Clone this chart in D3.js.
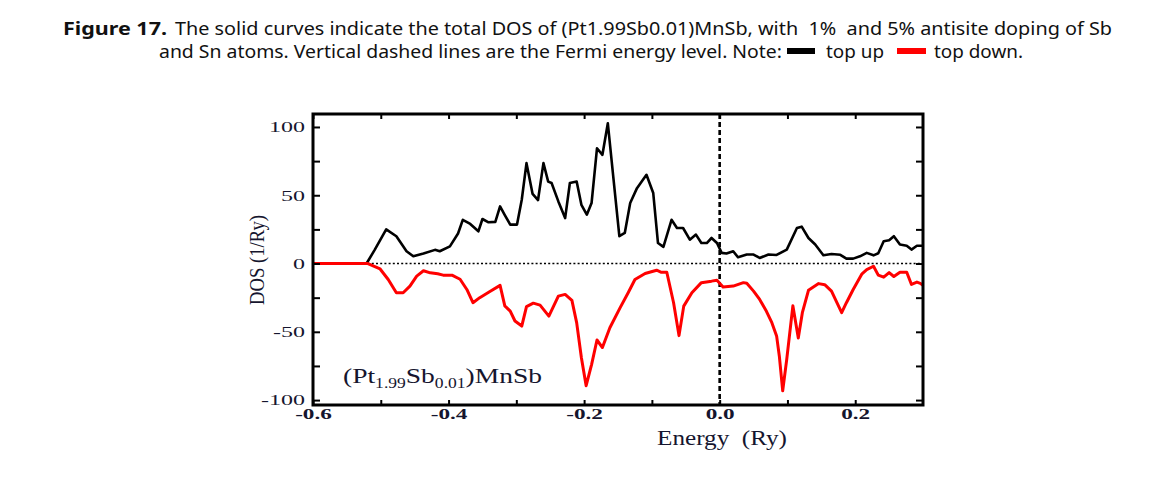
<!DOCTYPE html>
<html><head><meta charset="utf-8">
<script src="https://cdn.jsdelivr.net/npm/d3@7/dist/d3.min.js"></script>
<style>body{margin:0;background:#fff} svg{display:block} text{white-space:pre}</style>
</head><body><svg id="c" width="1154" height="488"></svg>
<script>
// ---- data ----
const energyUp = [-0.600,-0.521,-0.509,-0.492,-0.477,-0.462,-0.452,-0.437,-0.420,-0.413,-0.398,-0.386,-0.379,-0.368,-0.356,-0.350,-0.341,-0.331,-0.324,-0.317,-0.309,-0.299,-0.292,-0.285,-0.276,-0.268,-0.260,-0.253,-0.248,-0.238,-0.228,-0.221,-0.211,-0.204,-0.196,-0.189,-0.181,-0.173,-0.165,-0.157,-0.148,-0.140,-0.132,-0.122,-0.108,-0.098,-0.091,-0.083,-0.071,-0.063,-0.054,-0.044,-0.035,-0.027,-0.019,-0.012,-0.004,0.003,0.010,0.020,0.027,0.040,0.050,0.059,0.072,0.084,0.099,0.114,0.121,0.131,0.141,0.153,0.165,0.178,0.187,0.197,0.207,0.217,0.227,0.234,0.242,0.250,0.257,0.266,0.276,0.283,0.291,0.300];
const dosUp = [0,0,10,25,20,9,5.3,7.3,10,9,12.6,22,32,29,23.6,32.6,30.2,30.5,41.8,35.5,28.5,28.5,46.7,73.5,51,46.5,73.5,60,59,45.5,33.3,59,60,43,35.8,44.3,84.4,79.6,102.7,63.7,20,22.4,44.3,55.2,65,51.6,15,12.2,32,26,26,17.5,21.2,15,15,18.7,15,7.8,7.3,9,4.6,6.6,6.6,4.1,6.6,6.3,10.2,26,27,18.7,13.9,6.1,7,6.4,3.6,3.6,5.3,7.8,6,7.5,16.3,17,20,13.9,13,10.2,13,13];
const energyDown = [-0.600,-0.519,-0.501,-0.489,-0.477,-0.467,-0.457,-0.447,-0.437,-0.427,-0.416,-0.408,-0.395,-0.383,-0.373,-0.364,-0.354,-0.339,-0.324,-0.317,-0.309,-0.302,-0.292,-0.285,-0.275,-0.265,-0.252,-0.238,-0.228,-0.218,-0.211,-0.204,-0.197,-0.189,-0.181,-0.173,-0.162,-0.147,-0.135,-0.125,-0.110,-0.093,-0.086,-0.078,-0.068,-0.060,-0.053,-0.041,-0.027,-0.012,-0.004,0.005,0.020,0.035,0.040,0.050,0.059,0.069,0.077,0.084,0.088,0.093,0.099,0.108,0.116,0.122,0.131,0.146,0.155,0.165,0.173,0.180,0.187,0.197,0.210,0.217,0.227,0.234,0.242,0.250,0.257,0.266,0.276,0.283,0.291,0.296,0.300];
const dosDown = [0,0,-4,-11.7,-21.4,-21.4,-16.5,-9.2,-5.3,-6.8,-7.5,-8.5,-8.5,-11.5,-19,-28.7,-25,-20.5,-16,-31,-34.8,-42.1,-45.8,-31.5,-29,-30.5,-38.5,-23.9,-22.6,-27,-43.3,-69,-89.5,-74,-56,-61.5,-47,-32.5,-21.4,-11.7,-7.3,-4.9,-6.4,-6.4,-28.7,-52.8,-31.2,-21.4,-14,-12.9,-12.2,-17.2,-16.5,-14,-14.5,-20.2,-26.3,-35,-43.3,-53,-67.7,-93.2,-70,-31,-54.6,-36,-19.6,-14.7,-15.5,-20.2,-28.7,-36,-28.7,-19,-7.5,-4.4,-2,-8.5,-10,-6.6,-9.5,-6.4,-6.4,-15.3,-13.6,-14.5,-16];
const xLabelTicks = [-0.6,-0.4,-0.2,0.0,0.2];
const xLabelText = ["-0.6","-0.4","-0.2","0.0","0.2"];
const xAllTicks = [-0.6,-0.5,-0.4,-0.3,-0.2,-0.1,0.0,0.1,0.2];
const yLabelTicks = [-100,-50,0,50,100];
const yLabelText = ["-100","-50","0","50","100"];
const yAllTicks = [-100,-75,-50,-25,0,25,50,75,100];
const fermiEnergy = 0;
const xDomain = [-0.6, 0.3];
const yDomain = [-103.6, 109.5];

// ---- layout ----
const svg = d3.select("#c");
const L = 313, R = 923, T = 114, B = 405;
const x = d3.scaleLinear().domain(xDomain).range([L, R]);
const y = d3.scaleLinear().domain(yDomain).range([B, T]);
const serif = "'Liberation Serif','Times New Roman',serif";
const ink = "#15152e";

// ---- title ----
const sans = "'Noto Sans','Liberation Sans',Arial,sans-serif";
const t1 = svg.append("g").attr("font-family", sans).attr("font-size", 18).attr("fill", "#111");
t1.append("text").attr("x", 63).attr("y", 35).attr("font-weight", "bold")
  .attr("textLength", 104).attr("lengthAdjust", "spacingAndGlyphs").text("Figure 17.");
t1.append("text").attr("x", 175).attr("y", 35)
  .attr("textLength", 937).attr("lengthAdjust", "spacingAndGlyphs")
  .text("The solid curves indicate the total DOS of (Pt1.99Sb0.01)MnSb, with  1%  and 5% antisite doping of Sb");
t1.append("text").attr("x", 159).attr("y", 58)
  .attr("textLength", 623).attr("lengthAdjust", "spacingAndGlyphs")
  .text("and Sn atoms. Vertical dashed lines are the Fermi energy level. Note:");
t1.append("rect").attr("x", 787).attr("y", 48).attr("width", 28).attr("height", 6).attr("fill", "#000");
t1.append("text").attr("x", 826).attr("y", 58)
  .attr("textLength", 58).attr("lengthAdjust", "spacingAndGlyphs").text("top up");
t1.append("rect").attr("x", 897).attr("y", 48).attr("width", 29).attr("height", 6).attr("fill", "#ff0000");
t1.append("text").attr("x", 934).attr("y", 58)
  .attr("textLength", 89).attr("lengthAdjust", "spacingAndGlyphs").text("top down.");

// ---- reference lines ----
svg.append("line").attr("x1", L).attr("x2", R).attr("y1", y(0)).attr("y2", y(0))
  .attr("stroke", "#000").attr("stroke-width", 1.6).attr("stroke-dasharray", "2,2.2");
svg.append("line").attr("x1", x(fermiEnergy)).attr("x2", x(fermiEnergy)).attr("y1", T).attr("y2", B)
  .attr("stroke", "#000").attr("stroke-width", 2.6).attr("stroke-dasharray", "5,3");

// ---- curves ----
const line = d3.line().x(d => x(d[0])).y(d => y(d[1]));
svg.append("path").datum(d3.zip(energyUp, dosUp)).attr("d", line)
  .attr("fill", "none").attr("stroke", "#000").attr("stroke-width", 2.6).attr("stroke-linejoin", "round");
svg.append("path").datum(d3.zip(energyDown, dosDown)).attr("d", line)
  .attr("fill", "none").attr("stroke", "#ff0000").attr("stroke-width", 3).attr("stroke-linejoin", "round");

// ---- axes (inward ticks) ----
function styleAxis(g) {
  g.select(".domain").remove();
  g.selectAll(".tick line").attr("stroke", "#000").attr("stroke-width", 2);
}
svg.append("g").attr("transform", `translate(0,${B})`)
  .call(d3.axisBottom(x).tickValues(xAllTicks).tickSize(-5).tickFormat(""))
  .call(styleAxis);
svg.append("g").attr("transform", `translate(0,${T})`)
  .call(d3.axisTop(x).tickValues(xAllTicks).tickSize(-5).tickFormat(""))
  .call(styleAxis);
svg.append("g").attr("transform", `translate(${L},0)`)
  .call(d3.axisLeft(y).tickValues(yAllTicks).tickSize(-7).tickFormat(""))
  .call(styleAxis);
svg.append("g").attr("transform", `translate(${R},0)`)
  .call(d3.axisRight(y).tickValues(yAllTicks).tickSize(-7).tickFormat(""))
  .call(styleAxis);

// tick labels (horizontally stretched like the source)
const sx = 1.6;
const xl = svg.append("g").attr("transform", `translate(0,${B})`)
  .call(d3.axisBottom(x).tickValues(xLabelTicks).tickSize(0).tickPadding(4)
    .tickFormat((d, i) => xLabelText[i]));
xl.select(".domain").remove();
xl.selectAll("text").attr("font-family", serif).attr("font-size", 14.5).attr("font-weight", "bold")
  .attr("fill", ink).attr("transform", `scale(${sx},1)`);
const yl = svg.append("g").attr("transform", `translate(${L},0)`)
  .call(d3.axisLeft(y).tickValues(yLabelTicks).tickSize(0).tickPadding(8)
    .tickFormat((d, i) => yLabelText[i]));
yl.select(".domain").remove();
yl.selectAll("text").attr("font-family", serif).attr("font-size", 15)
  .attr("fill", ink).attr("x", -8 / sx).attr("transform", `scale(${sx},1)`);

// frame
svg.append("rect").attr("x", L).attr("y", T).attr("width", R - L).attr("height", B - T)
  .attr("fill", "none").attr("stroke", "#000").attr("stroke-width", 3);

// ---- axis titles & annotation ----
svg.append("text").attr("x", 657).attr("y", 445).attr("font-family", serif).attr("font-size", 22)
  .attr("fill", ink).attr("textLength", 130).attr("lengthAdjust", "spacingAndGlyphs").text("Energy  (Ry)");
svg.append("text").attr("transform", "translate(264,305) rotate(-90)")
  .attr("font-family", serif).attr("font-size", 21).attr("fill", ink)
  .attr("textLength", 90).attr("lengthAdjust", "spacingAndGlyphs").text("DOS (1/Ry)");
const ann = svg.append("text").attr("x", 343).attr("y", 383).attr("font-family", serif)
  .attr("font-size", 22).attr("fill", ink).attr("textLength", 199).attr("lengthAdjust", "spacingAndGlyphs");
ann.append("tspan").text("(Pt");
ann.append("tspan").attr("font-size", 14).attr("dy", 5).text("1.99");
ann.append("tspan").attr("dy", -5).text("Sb");
ann.append("tspan").attr("font-size", 14).attr("dy", 5).text("0.01");
ann.append("tspan").attr("dy", -5).text(")MnSb");
</script></body></html>
